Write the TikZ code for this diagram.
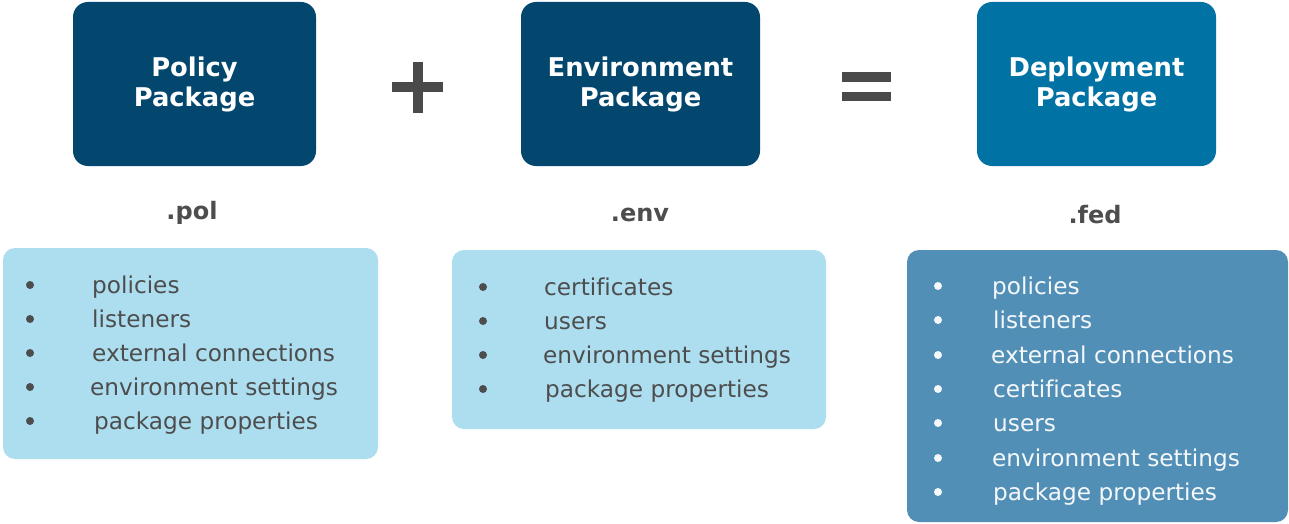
\documentclass[tikz,border=0pt]{standalone}
\usepackage{fontspec}
\setmainfont[Ligatures=NoCommon]{DejaVu Sans}
\definecolor{navy}{RGB}{3,70,110}
\definecolor{deploy}{RGB}{0,114,163}
\definecolor{lightbox}{RGB}{172,222,240}
\definecolor{midbox}{RGB}{82,143,182}
\definecolor{opgray}{RGB}{74,74,74}
\definecolor{txtgray}{RGB}{77,77,77}
\definecolor{lighttxt}{RGB}{245,248,250}
\tikzset{
  pkgbox/.style={rounded corners=15pt},
  listbox/.style={rounded corners=12pt},
  titletext/.style={text=white, font=\fontsize{25.8}{30}\selectfont\bfseries, align=center, inner sep=0pt},
  exttext/.style={text=txtgray, font=\fontsize{24}{28}\selectfont\bfseries, inner sep=0pt},
  itemdark/.style={text=txtgray, font=\fontsize{23.2}{27}\selectfont, inner sep=0pt, anchor=base west, yshift=-8pt},
  itemlight/.style={text=lighttxt, font=\fontsize{23.2}{27}\selectfont, inner sep=0pt, anchor=base west, yshift=-8pt},
  bulletdark/.style={circle, fill=txtgray, minimum size=8pt, inner sep=0pt},
  bulletlight/.style={circle, fill=lighttxt, minimum size=8pt, inner sep=0pt},
}
\begin{document}
\begin{tikzpicture}[x=1pt,y=-1pt]
\useasboundingbox (0,0) rectangle (1289,524);
% top package boxes
\fill[navy, pkgbox] (73,2) rectangle (316,166);
\fill[navy, pkgbox] (521,2) rectangle (760,166);
\fill[deploy, pkgbox] (977,2) rectangle (1216,166);
\node[titletext] (pol) at (194.5,84) {Policy\\Package};
\node[titletext] (env) at (640.5,84) {Environment\\Package};
\node[titletext] (dep) at (1096.5,84) {Deployment\\Package};
% operators
\fill[opgray] (392,82.5) rectangle (443,92.5);
\fill[opgray] (412.5,62) rectangle (422.5,113);
\fill[opgray] (842,72) rectangle (891,82);
\fill[opgray] (842,92) rectangle (891,101);
% extensions
\node[exttext] (polext) at (192,213) {.pol};
\node[exttext] (envext) at (640,215) {.env};
\node[exttext] (fedext) at (1095,215) {.fed};
% list boxes
\fill[lightbox, listbox] (3,248) rectangle (378,459);
\fill[lightbox, listbox] (452,250) rectangle (826,429);
\fill[midbox, listbox] (907,250) rectangle (1288,522);
% list 1
\node[bulletdark] (b11) at (30,285) {};
\node[bulletdark] (b12) at (30,319) {};
\node[bulletdark] (b13) at (30,353) {};
\node[bulletdark] (b14) at (30,387) {};
\node[bulletdark] (b15) at (30,421) {};
\node[itemdark] (i11) at (92,285) {policies};
\node[itemdark] (i12) at (92,319) {listeners};
\node[itemdark] (i13) at (92,353) {external connections};
\node[itemdark] (i14) at (90,387) {environment settings};
\node[itemdark] (i15) at (94,421) {package properties};
% list 2
\node[bulletdark] (b21) at (483,287) {};
\node[bulletdark] (b22) at (483,321) {};
\node[bulletdark] (b23) at (483,355) {};
\node[bulletdark] (b24) at (483,389) {};
\node[itemdark] (i21) at (544,287) {certificates};
\node[itemdark] (i22) at (544,321) {users};
\node[itemdark] (i23) at (543,355) {environment settings};
\node[itemdark] (i24) at (545,389) {package properties};
% list 3
\node[bulletlight] (b31) at (938,286) {};
\node[bulletlight] (b32) at (938,320) {};
\node[bulletlight] (b33) at (938,355) {};
\node[bulletlight] (b34) at (938,389) {};
\node[bulletlight] (b35) at (938,423) {};
\node[bulletlight] (b36) at (938,458) {};
\node[bulletlight] (b37) at (938,492) {};
\node[itemlight] (i31) at (992,286) {policies};
\node[itemlight] (i32) at (993,320) {listeners};
\node[itemlight] (i33) at (991,355) {external connections};
\node[itemlight] (i34) at (993,389) {certificates};
\node[itemlight] (i35) at (993,423) {users};
\node[itemlight] (i36) at (992,458) {environment settings};
\node[itemlight] (i37) at (993,492) {package properties};
\end{tikzpicture}
\end{document}
